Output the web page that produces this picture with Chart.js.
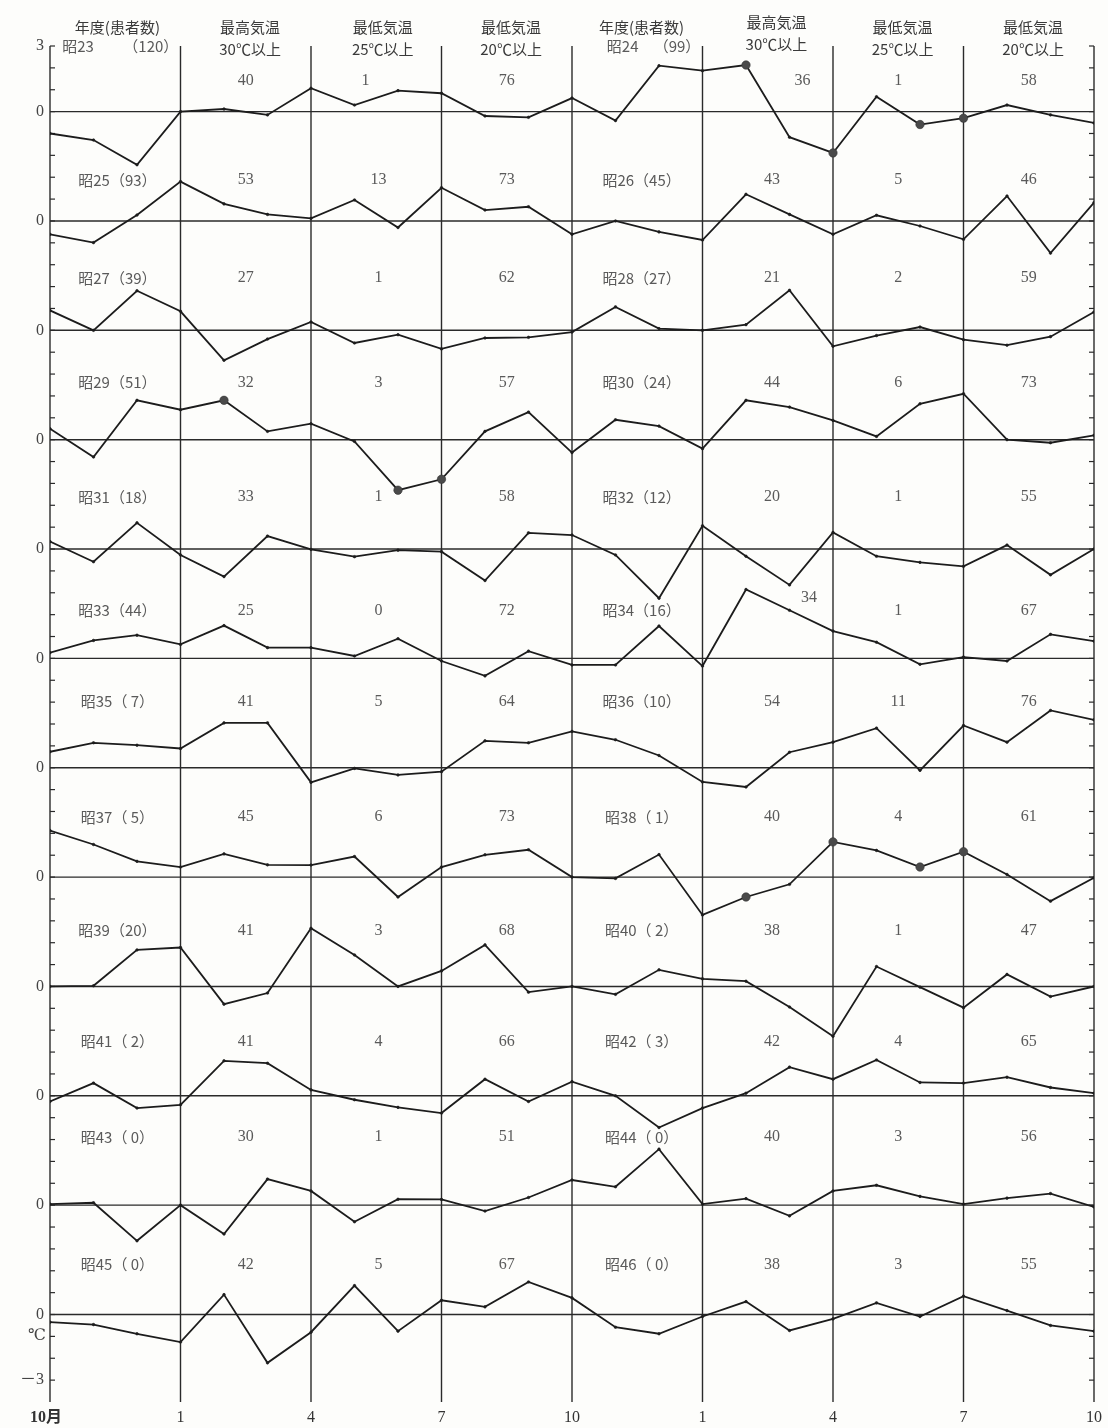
<!DOCTYPE html>
<html><head><meta charset="utf-8">
<script src="https://cdn.jsdelivr.net/npm/chart.js@4.4.1/dist/chart.umd.min.js"></script>
<style>html,body{margin:0;padding:0;background:#fdfdfb;}canvas{display:block;}</style>
</head><body>
<canvas id="c" width="1108" height="1428"></canvas>
<script>
// ---- data ----
const monthTicks = [0,3,6,9,12,15,18,21,24];
const monthTickLabels = ['10月','1','4','7','10','1','4','7','10'];
const headerTitles = ['年度(患者数)','最高気温','最低気温','最低気温'];
const headerSubs = ['','30℃以上','25℃以上','20℃以上'];

const yearLeft  = ['昭23','昭25','昭27','昭29','昭31','昭33','昭35','昭37','昭39','昭41','昭43','昭45'];
const patientsLeft = ['120','93','39','51','18','44',' 7',' 5','20',' 2',' 0',' 0'];
const hot30Left = ['40','53','27','32','33','25','41','45','41','41','30','42'];
const min25Left = ['1','13','1','3','1','0','5','6','3','4','1','5'];
const min20Left = ['76','73','62','57','58','72','64','73','68','66','51','67'];

const yearRight = ['昭24','昭26','昭28','昭30','昭32','昭34','昭36','昭38','昭40','昭42','昭44','昭46'];
const patientsRight = ['99','45','27','24','12','16','10',' 1',' 2',' 3',' 0',' 0'];
const hot30Right = ['36','43','21','44','20','34','54','40','38','42','40','38'];
const min25Right = ['1','5','2','6','1','1','11','4','1','4','3','3'];
const min20Right = ['58','46','59','73','55','67','76','61','47','65','56','55'];

// monthly temperature anomalies (℃), Oct .. Oct over two years (25 points)
const anom23_24 = [-1.0,-1.3,-2.43,0,0.12,-0.15,1.07,0.3,0.96,0.84,-0.2,-0.26,0.62,-0.41,2.1,1.87,2.13,-1.17,-1.89,0.68,-0.59,-0.3,0.3,-0.15,-0.52];
const anom25_26 = [-0.61,-0.99,0.27,1.8,0.78,0.3,0.12,0.96,-0.3,1.52,0.5,0.65,-0.61,0,-0.5,-0.87,1.22,0.3,-0.61,0.26,-0.23,-0.84,1.14,-1.47,0.84];
const anom27_28 = [0.91,0,1.81,0.87,-1.37,-0.4,0.38,-0.58,-0.2,-0.85,-0.35,-0.32,-0.08,1.07,0.08,0,0.26,1.83,-0.73,-0.24,0.15,-0.43,-0.68,-0.29,0.84];
const anom29_30 = [0.5,-0.79,1.8,1.37,1.8,0.38,0.73,-0.08,-2.31,-1.81,0.38,1.26,-0.59,0.91,0.62,-0.41,1.8,1.49,0.88,0.15,1.64,2.1,0,-0.14,0.2];
const anom31_32 = [0.34,-0.58,1.2,-0.27,-1.26,0.59,-0.02,-0.35,-0.05,-0.12,-1.44,0.74,0.64,-0.27,-2.25,1.06,-0.33,-1.64,0.76,-0.33,-0.61,-0.79,0.18,-1.18,0];
const anom33_34 = [0.26,0.82,1.06,0.64,1.5,0.49,0.49,0.11,0.9,-0.12,-0.8,0.33,-0.3,-0.3,1.48,-0.35,3.15,2.2,1.25,0.74,-0.27,0.06,-0.12,1.1,0.79];
const anom35_36 = [0.73,1.14,1.03,0.88,2.05,2.05,-0.67,-0.03,-0.33,-0.18,1.23,1.14,1.66,1.28,0.56,-0.65,-0.88,0.71,1.17,1.81,-0.12,1.93,1.17,2.62,2.19];
const anom37_38 = [2.13,1.49,0.72,0.46,1.06,0.56,0.55,0.94,-0.91,0.46,1.02,1.25,0,-0.06,1.03,-1.73,-0.91,-0.33,1.61,1.22,0.46,1.16,0.12,-1.1,-0.03];
const anom39_40 = [0,0.03,1.67,1.78,-0.81,-0.3,2.66,1.44,0,0.71,1.9,-0.26,0,-0.36,0.76,0.35,0.24,-0.94,-2.28,0.91,-0.03,-0.97,0.55,-0.46,0];
const anom41_42 = [-0.26,0.58,-0.56,-0.41,1.6,1.49,0.27,-0.18,-0.53,-0.79,0.76,-0.26,0.65,0,-1.45,-0.56,0.12,1.31,0.76,1.64,0.61,0.58,0.85,0.38,0.12];
const anom43_44 = [0.05,0.11,-1.63,0,-1.32,1.19,0.65,-0.76,0.27,0.26,-0.27,0.35,1.15,0.84,2.56,0.05,0.3,-0.49,0.65,0.91,0.4,0.05,0.32,0.53,-0.08];
const anom45_46 = [-0.35,-0.46,-0.88,-1.26,0.91,-2.21,-0.81,1.32,-0.76,0.65,0.35,1.49,0.76,-0.58,-0.88,-0.09,0.59,-0.73,-0.2,0.53,-0.09,0.84,0.18,-0.5,-0.76];
const markedPoints = [[16,18,20,21],[],[],[4,8,9],[],[],[],[16,18,20,21],[],[],[],[]];

const series = [anom23_24,anom25_26,anom27_28,anom29_30,anom31_32,anom33_34,anom35_36,anom37_38,anom39_40,anom41_42,anom43_44,anom45_46];

// ---- layout ----
const rowGap = 5;          // ℃ between row baselines
const yMax = 3, yMin = -59;
const colX = [1.55, 4.5, 7.55, 10.5, 13.6, 16.6, 19.5, 22.5];
const labelLift = [1.42, 1.87, 2.38, 2.61, 2.38, 2.19, 3.02, 2.74, 2.56, 2.47, 3.11, 2.29];
const NUM_FONT = '16px "Liberation Serif","DejaVu Serif","Noto Sans CJK JP",serif';
const CJK_FONT = '15px "Noto Sans CJK JP","Liberation Serif",serif';
const LABEL_COLOR = '#5a5a5a';

const datasets = series.map((arr, i) => ({
  data: arr.map((v, m) => ({x: m, y: v - i * rowGap})),
  borderColor: '#1c1c1c',
  borderWidth: 1.8,
  tension: 0,
  pointRadius: ctx => markedPoints[i].includes(ctx.dataIndex) ? 4.2 : 1.3,
  pointBackgroundColor: ctx => markedPoints[i].includes(ctx.dataIndex) ? '#4a4a4a' : '#1c1c1c',
  pointBorderColor: ctx => markedPoints[i].includes(ctx.dataIndex) ? '#333' : '#1c1c1c',
  pointBorderWidth: 0.6
}));

const framePlugin = {
  id: 'frame',
  beforeDatasetsDraw(chart) {
    const {ctx, scales: {x, y}} = chart;
    ctx.save();
    ctx.strokeStyle = '#2a2a2a';
    ctx.lineWidth = 1.4;
    // row baselines
    series.forEach((_, i) => {
      const py = y.getPixelForValue(-i * rowGap);
      ctx.beginPath(); ctx.moveTo(x.getPixelForValue(0), py); ctx.lineTo(x.getPixelForValue(24), py); ctx.stroke();
    });
    // vertical lines
    monthTicks.forEach(m => {
      const px = x.getPixelForValue(m);
      ctx.beginPath(); ctx.moveTo(px, y.getPixelForValue(yMax)); ctx.lineTo(px, y.getPixelForValue(yMin)); ctx.stroke();
    });
    // axis ticks every 1℃
    ctx.lineWidth = 1.2;
    const lx = x.getPixelForValue(0), rx = x.getPixelForValue(24);
    for (let v = yMax; v >= yMin + 1; v--) {
      const py = y.getPixelForValue(v);
      ctx.beginPath(); ctx.moveTo(lx, py); ctx.lineTo(lx + 5, py); ctx.stroke();
      ctx.beginPath(); ctx.moveTo(rx, py); ctx.lineTo(rx - 5, py); ctx.stroke();
    }
    ctx.restore();
  },
  afterDraw(chart) {
    const {ctx, scales: {x, y}} = chart;
    ctx.save();
    ctx.textBaseline = 'middle';
    // y axis labels
    ctx.fillStyle = '#444';
    ctx.font = NUM_FONT;
    ctx.textAlign = 'right';
    const lx = x.getPixelForValue(0);
    ctx.fillText('3', lx - 6, y.getPixelForValue(3));
    series.forEach((_, i) => ctx.fillText('0', lx - 6, y.getPixelForValue(-i * rowGap)));
    ctx.fillText('℃', lx - 4, y.getPixelForValue(-11 * rowGap - 0.96));
    ctx.fillText('－3', lx - 6, y.getPixelForValue(-11 * rowGap - 3));
    // x axis labels
    ctx.textAlign = 'center';
    ctx.fillStyle = '#333';
    monthTicks.forEach((m, k) => {
      ctx.font = k === 0 ? 'bold 16px "Liberation Serif","Noto Sans CJK JP",serif' : NUM_FONT;
      ctx.fillText(monthTickLabels[k], x.getPixelForValue(m) - (k === 0 ? 4 : 0), y.getPixelForValue(yMin) + 16);
    });
    // headers (two panels)
    ctx.fillStyle = '#3a3a3a';
    ctx.font = CJK_FONT;
    [0, 4].forEach((off, p) => {
      headerTitles.forEach((t, k) => {
        const cx = x.getPixelForValue(colX[off + k] + (k === 0 ? 0 : 0.1));
        const lift = (p === 1 && k === 1) ? 0.25 : 0;
        if (headerSubs[k]) {
          ctx.fillText(t, cx, y.getPixelForValue(3.85 + lift));
          ctx.fillText(headerSubs[k], cx, y.getPixelForValue(2.85 + lift));
        } else {
          ctx.fillText(t, cx, y.getPixelForValue(3.85));
        }
      });
    });
    // row labels
    ctx.fillStyle = LABEL_COLOR;
    series.forEach((_, i) => {
      const base = -i * rowGap;
      const ly = y.getPixelForValue(base + labelLift[i]);
      ctx.font = CJK_FONT;
      if (i === 0) {
        const ny = y.getPixelForValue(2.97);
        ctx.textAlign = 'left';
        ctx.fillText(yearLeft[0], x.getPixelForValue(0.28), ny);
        ctx.fillText(yearRight[0], x.getPixelForValue(12.8), ny);
        ctx.textAlign = 'right';
        ctx.fillText('（' + patientsLeft[0] + '）', x.getPixelForValue(2.95), ny);
        ctx.fillText('（' + patientsRight[0] + '）', x.getPixelForValue(14.95), ny);
        ctx.textAlign = 'center';
      } else {
        ctx.textAlign = 'center';
        ctx.fillText(yearLeft[i] + '（' + patientsLeft[i] + '）', x.getPixelForValue(colX[0]), ly);
        ctx.fillText(yearRight[i] + '（' + patientsRight[i] + '）', x.getPixelForValue(colX[4]), ly);
      }
      ctx.font = NUM_FONT;
      const nums = [hot30Left[i], min25Left[i], min20Left[i], hot30Right[i], min25Right[i], min20Right[i]];
      const cols = [1, 2, 3, 5, 6, 7];
      nums.forEach((n, k) => {
        let cx = colX[cols[k]];
        let vy = base + labelLift[i];
        if (i === 0 && k === 1) cx -= 0.3;
        if (i === 0 && k === 3) cx += 0.7;
        if (i === 5 && k === 3) { cx += 0.85; vy += 0.6; }
        ctx.fillText(n, x.getPixelForValue(cx), y.getPixelForValue(vy));
      });
    });
    ctx.restore();
  }
};

new Chart(document.getElementById('c'), {
  type: 'line',
  data: {datasets},
  options: {
    responsive: false,
    animation: false,
    devicePixelRatio: 1,
    layout: {padding: {left: 50, right: 14, top: 46, bottom: 26}},
    scales: {
      x: {type: 'linear', min: 0, max: 24, display: false},
      y: {type: 'linear', min: yMin, max: yMax, display: false}
    },
    plugins: {legend: {display: false}, tooltip: {enabled: false}}
  },
  plugins: [framePlugin]
});
</script>
</body></html>
